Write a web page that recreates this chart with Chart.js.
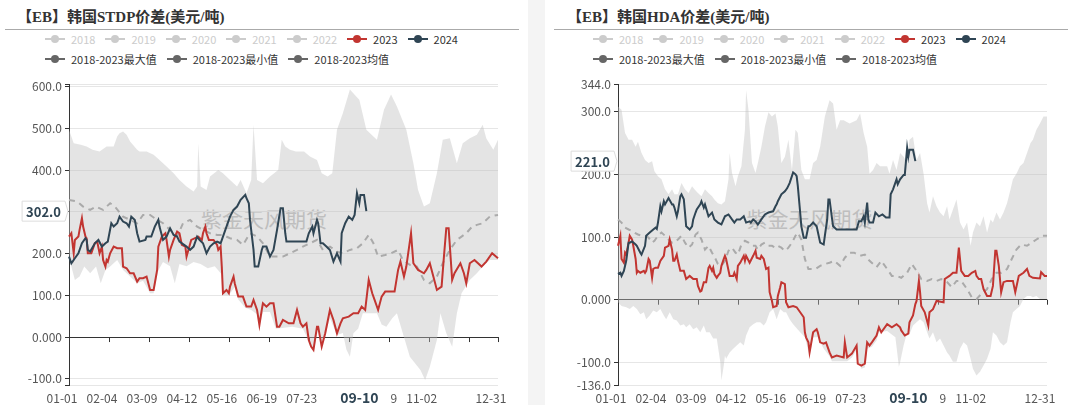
<!DOCTYPE html>
<html>
<head>
<meta charset="utf-8">
<script src="https://cdn.jsdelivr.net/npm/chart.js@4.4.1/dist/chart.umd.min.js"></script>
<style>
body{margin:0;width:1074px;height:405px;background:#f4f4f4;position:relative;overflow:hidden;font-family:"Noto Sans CJK SC","Noto Sans",sans-serif}
.panel{position:absolute;top:0;height:405px;background:#fff}
.title{position:absolute;top:5px;line-height:20px;font:bold 15px "Liberation Serif","Noto Sans CJK SC",serif;color:#333;white-space:nowrap}
.rule{position:absolute;top:29px;height:1px;background:#aaa}
.legend{position:absolute;top:29px;font-size:11px}
.row{display:flex;align-items:center;height:20px;white-space:nowrap}
.item{display:flex;align-items:center;margin-right:10px}
.icon{position:relative;width:20px;height:12px;margin-right:6px}
.icon .ln{position:absolute;left:0;right:0;top:5px;height:2px}
.icon .dot{position:absolute;left:6px;top:2px;width:8px;height:8px;border-radius:50%}
.mark{position:absolute;left:0;width:100%;top:203px;text-align:center;font-size:21px;color:#bdbdbd}
canvas{position:absolute;left:0;top:0}
</style>
</head>
<body>
<div class="panel" style="left:0;width:528px">
  <div class="title" style="left:17px">【EB】韩国STDP价差(美元/吨)</div>
  <div class="rule" style="left:5px;width:514px"></div>
  <div class="legend" id="leg1" style="left:45px"></div>
  <div class="mark">紫金天风期货</div>
  <canvas id="c1" width="528" height="405"></canvas>
</div>
<div class="panel" style="left:545px;width:529px">
  <div class="title" style="left:22px">【EB】韩国HDA价差(美元/吨)</div>
  <div class="rule" style="left:9px;width:514px"></div>
  <div class="legend" id="leg2" style="left:48px"></div>
  <div class="mark">紫金天风期货</div>
  <canvas id="c2" width="529" height="405"></canvas>
</div>
<script>
// day of year (0 = 01-01, leap-year calendar), value in USD/t
const stdpMax = [[0,497],[2,481],[4,465],[10,461],[15,457],[20,449],[26,445],[32,457],[38,457],[41,481],[43,489],[46,493],[49,485],[52,469],[58,449],[60,445],[66,445],[72,437],[77,425],[83,409],[89,393],[94,377],[100,361],[106,349],[109,361],[110,465],[112,361],[117,353],[120,385],[127,401],[131,393],[137,377],[143,361],[146,377],[151,345],[155,377],[157,509],[160,377],[165,369],[171,385],[178,401],[181,473],[184,457],[188,449],[193,445],[200,445],[205,433],[211,425],[215,393],[220,385],[224,393],[228,497],[233,537],[239,594],[244,578],[247,569],[253,497],[259,481],[262,473],[268,545],[274,582],[279,553],[287,497],[293,417],[297,353],[302,313],[307,321],[313,393],[318,473],[324,477],[330,417],[335,465],[341,477],[347,485],[352,509],[355,477],[361,449],[365,473]];
const stdpMin = [[0,201],[2,169],[5,137],[9,145],[13,169],[18,153],[23,169],[27,129],[31,161],[35,169],[41,185],[46,161],[52,145],[58,129],[63,135],[69,105],[72,105],[76,160],[80,180],[86,170],[90,129],[94,175],[100,170],[106,180],[112,175],[118,165],[124,170],[130,150],[131,100],[136,100],[141,120],[144,90],[150,70],[155,65],[160,55],[162,25],[165,60],[171,60],[176,20],[190,25],[199,20],[204,-10],[208,-35],[212,20],[215,-25],[218,5],[222,45],[228,5],[233,10],[236,-30],[239,-47],[242,9],[246,20],[250,57],[256,57],[262,57],[266,30],[270,25],[275,45],[279,57],[284,9],[290,-47],[299,-79],[303,-103],[307,-71],[313,-7],[316,57],[321,9],[326,-23],[330,57],[334,105],[341,137],[347,153],[352,169],[358,185],[365,185]];
const stdpMean = [[0,329],[7,325],[12,313],[18,305],[23,313],[29,305],[35,321],[39,313],[46,289],[52,281],[58,273],[63,293],[69,293],[75,281],[80,273],[86,257],[92,241],[97,273],[103,281],[109,265],[114,257],[120,249],[126,245],[131,245],[137,237],[143,233],[148,221],[154,249],[160,241],[165,225],[171,193],[177,193],[182,193],[188,201],[194,209],[199,217],[205,225],[211,233],[216,209],[222,217],[228,205],[233,201],[239,209],[245,213],[250,225],[255,245],[259,225],[263,193],[269,197],[274,201],[280,209],[284,185],[290,173],[296,169],[302,137],[307,129],[313,145],[318,177],[324,209],[330,233],[334,241],[338,249],[343,265],[347,269],[352,273],[358,289],[365,293]];
const stdp2023 = [[0,241],[2,249],[4,201],[5,233],[8,241],[9,257],[11,285],[12,265],[14,241],[15,237],[16,201],[19,201],[22,225],[24,229],[26,201],[28,217],[29,185],[31,169],[32,185],[33,181],[35,201],[38,217],[41,213],[45,213],[46,169],[49,165],[52,153],[55,153],[58,133],[60,141],[63,141],[66,145],[69,113],[72,113],[75,161],[76,217],[79,241],[82,249],[83,233],[85,193],[86,209],[89,233],[92,253],[94,249],[96,221],[99,217],[100,193],[102,213],[104,233],[110,241],[113,233],[114,249],[116,265],[117,249],[119,233],[123,233],[126,221],[127,209],[129,217],[130,169],[131,105],[134,113],[136,105],[137,121],[140,145],[141,129],[144,97],[148,97],[151,73],[155,73],[157,89],[160,65],[162,29],[164,65],[165,81],[168,73],[171,81],[174,81],[177,25],[179,25],[182,41],[187,33],[191,33],[194,65],[197,33],[199,25],[202,33],[204,-7],[206,-23],[208,-31],[211,25],[212,25],[215,-23],[218,9],[222,65],[225,41],[228,9],[231,33],[233,45],[238,49],[242,57],[246,57],[249,73],[252,65],[255,137],[258,105],[260,89],[263,65],[266,97],[269,109],[277,109],[280,161],[282,181],[285,145],[287,169],[291,249],[293,177],[297,161],[302,153],[304,161],[307,177],[310,145],[313,113],[317,121],[319,193],[321,261],[323,261],[326,137],[328,153],[333,177],[336,153],[338,129],[341,177],[345,185],[351,169],[355,181],[360,201],[365,189]];
const stdp2024 = [[0,193],[2,177],[5,189],[8,201],[11,225],[14,237],[15,233],[16,209],[18,205],[22,225],[25,233],[28,217],[31,225],[33,229],[36,273],[38,265],[41,273],[43,289],[46,277],[49,273],[51,265],[53,289],[56,281],[58,249],[60,229],[65,233],[66,241],[70,241],[73,265],[76,281],[77,265],[80,233],[83,241],[86,261],[89,245],[92,241],[94,229],[100,217],[103,209],[106,217],[109,241],[111,233],[114,225],[117,201],[120,217],[123,225],[126,229],[129,225],[131,241],[134,265],[137,289],[140,305],[143,313],[146,329],[150,341],[151,333],[153,321],[154,281],[157,209],[158,169],[161,169],[164,209],[165,217],[168,217],[171,193],[174,209],[177,257],[180,309],[182,309],[184,249],[185,229],[194,229],[202,229],[204,249],[207,265],[208,249],[211,281],[212,273],[214,225],[216,225],[219,217],[222,209],[225,181],[228,201],[231,181],[232,249],[235,273],[238,289],[241,281],[243,293],[245,345],[247,321],[248,341],[251,341],[253,302]];

const hdaMax = [[0,308],[3,303],[6,266],[9,255],[12,255],[15,244],[17,252],[20,234],[23,223],[26,218],[29,221],[31,205],[34,197],[37,192],[40,176],[43,168],[46,176],[48,168],[51,168],[54,186],[57,176],[60,170],[63,181],[65,176],[68,170],[71,165],[74,176],[77,170],[80,165],[82,160],[85,154],[88,152],[91,157],[94,192],[95,234],[97,202],[100,181],[102,197],[105,213],[108,271],[109,334],[111,303],[114,218],[117,202],[119,218],[122,244],[125,276],[128,299],[131,292],[134,297],[136,276],[139,218],[142,228],[145,255],[148,207],[151,271],[153,266],[156,207],[159,192],[163,192],[166,218],[169,223],[172,244],[176,292],[180,318],[183,313],[186,271],[189,286],[192,286],[197,281],[203,286],[206,297],[209,266],[212,244],[214,201],[217,207],[220,218],[223,213],[229,213],[231,201],[234,223],[237,207],[240,234],[243,228],[246,218],[248,255],[251,260],[254,223],[257,234],[260,201],[263,154],[265,139],[268,165],[271,149],[274,139],[277,133],[280,149],[282,128],[285,144],[288,160],[291,123],[294,112],[297,123],[300,86],[302,107],[305,123],[308,117],[311,133],[314,107],[317,128],[319,123],[322,139],[325,128],[328,139],[331,154],[334,176],[336,192],[339,201],[342,213],[345,218],[348,234],[351,250],[353,255],[356,271],[359,281],[362,292],[365,292]];
const hdaMin = [[0,-4],[3,-10],[7,-12],[10,-15],[13,-10],[16,-15],[19,-23],[22,-20],[24,-31],[27,-25],[30,-17],[33,-20],[36,-15],[39,-25],[41,-31],[44,-20],[47,-31],[50,-33],[53,-41],[56,-39],[58,-44],[61,-39],[64,-47],[67,-44],[70,-52],[73,-41],[75,-52],[78,-52],[81,-62],[84,-62],[87,-99],[88,-129],[90,-105],[91,-89],[92,-94],[95,-84],[98,-78],[101,-73],[104,-68],[107,-73],[109,-57],[112,-44],[115,-39],[118,-36],[121,-36],[124,-41],[126,-36],[129,-20],[132,-15],[135,-31],[138,-15],[141,-20],[143,-20],[146,-31],[149,-39],[155,-52],[159,-60],[163,-90],[166,-60],[170,-60],[175,-78],[180,-90],[182,-98],[192,-98],[195,-98],[199,-92],[203,-80],[207,-110],[210,-108],[212,-78],[216,-75],[220,-65],[222,-52],[229,-50],[236,-60],[239,-107],[240,-100],[243,-73],[246,-52],[248,-55],[251,-41],[254,-36],[257,-31],[260,-36],[263,-52],[265,-62],[268,-52],[271,-68],[274,-62],[277,-73],[280,-84],[282,-89],[285,-99],[288,-99],[291,-78],[294,-68],[297,-73],[300,-94],[302,-110],[305,-121],[308,-115],[311,-105],[314,-94],[317,-78],[319,-52],[322,-57],[325,-68],[328,-73],[331,-68],[334,-36],[336,-20],[339,-15],[342,-10],[345,1],[348,6],[351,6],[353,4],[356,6],[359,1],[365,1]];
const hdaMean = [[0,128],[3,123],[6,115],[9,112],[12,110],[14,107],[17,104],[20,102],[23,102],[26,99],[29,91],[31,94],[34,102],[37,107],[40,102],[43,96],[46,91],[48,91],[51,96],[54,102],[57,91],[60,83],[63,88],[66,104],[68,107],[71,96],[74,80],[77,86],[80,75],[83,65],[85,57],[88,54],[91,62],[94,78],[97,83],[100,75],[102,72],[105,88],[108,94],[111,91],[114,86],[117,86],[119,80],[122,88],[125,91],[128,86],[131,86],[134,83],[136,86],[139,83],[142,78],[145,83],[148,91],[151,102],[153,107],[156,96],[159,65],[162,49],[168,49],[172,54],[176,57],[180,59],[184,62],[189,54],[193,67],[197,75],[201,75],[206,70],[210,72],[214,62],[220,52],[224,62],[229,49],[233,38],[237,38],[241,35],[246,43],[250,57],[254,46],[258,33],[263,30],[267,33],[271,30],[275,33],[280,28],[284,20],[288,30],[292,30],[297,17],[301,4],[305,1],[309,9],[314,17],[318,33],[322,43],[326,43],[331,49],[335,65],[339,80],[343,88],[348,86],[352,91],[356,96],[361,102],[365,102]];
const hda2023 = [[0,86],[2,102],[3,65],[5,59],[6,75],[7,72],[9,91],[10,102],[12,96],[13,86],[15,65],[16,43],[17,46],[19,43],[22,46],[23,43],[24,46],[26,65],[27,62],[29,35],[30,49],[32,51],[34,51],[36,62],[39,70],[40,83],[43,86],[44,96],[46,80],[47,62],[48,62],[50,72],[51,62],[53,46],[56,46],[58,33],[61,38],[64,33],[67,33],[68,22],[70,13],[71,14],[73,28],[75,28],[77,51],[78,54],[80,46],[81,51],[82,41],[84,35],[85,38],[87,43],[88,54],[90,65],[91,70],[92,65],[95,38],[98,38],[99,43],[101,33],[102,54],[104,59],[107,70],[108,62],[109,70],[112,59],[115,70],[117,78],[118,67],[121,65],[122,70],[124,65],[126,49],[128,51],[129,12],[131,-2],[132,-12],[135,-10],[136,6],[138,20],[139,28],[142,25],[143,-4],[145,-12],[149,-10],[152,-12],[155,-20],[158,-28],[159,-52],[160,-60],[162,-68],[163,-84],[166,-52],[169,-47],[170,-52],[172,-68],[175,-70],[177,-68],[180,-84],[182,-92],[186,-89],[192,-92],[193,-68],[195,-92],[199,-86],[203,-73],[204,-102],[207,-105],[210,-102],[212,-68],[214,-73],[216,-68],[220,-57],[222,-44],[224,-52],[229,-39],[233,-44],[237,-39],[240,-44],[241,-49],[244,-57],[247,-54],[248,-36],[251,-25],[253,-7],[254,-2],[256,30],[257,12],[258,-10],[261,-20],[264,-41],[265,-20],[268,-15],[271,-2],[277,-4],[278,33],[282,38],[285,43],[288,43],[290,83],[292,46],[295,38],[298,38],[301,43],[304,46],[305,38],[307,33],[309,33],[311,17],[314,6],[317,6],[319,22],[321,78],[322,78],[324,54],[326,12],[328,28],[331,30],[336,30],[338,12],[341,38],[345,43],[348,49],[350,38],[353,35],[359,34],[360,44],[363,38],[365,38]];
const hda2024 = [[0,41],[2,43],[3,38],[5,46],[7,62],[9,91],[10,91],[12,93],[15,88],[16,86],[19,75],[20,72],[23,86],[24,102],[27,107],[30,112],[32,115],[33,113],[34,123],[36,149],[37,141],[39,157],[40,152],[43,162],[46,152],[47,152],[48,147],[50,133],[51,141],[53,165],[54,168],[56,160],[57,139],[58,117],[61,112],[63,117],[64,128],[66,139],[67,144],[70,152],[71,157],[73,147],[74,152],[77,133],[80,139],[82,128],[85,123],[88,120],[91,133],[94,136],[97,128],[99,123],[101,128],[104,128],[107,133],[109,123],[112,125],[113,123],[115,128],[117,125],[119,120],[122,128],[125,136],[128,139],[132,141],[134,149],[135,152],[136,157],[139,168],[142,173],[144,178],[146,186],[149,203],[151,200],[152,197],[153,181],[155,139],[156,117],[158,99],[160,99],[162,117],[163,117],[166,123],[169,117],[172,91],[175,88],[176,102],[178,128],[179,160],[180,160],[182,131],[183,117],[186,112],[192,112],[200,112],[203,112],[205,125],[207,125],[209,133],[210,123],[212,155],[213,128],[214,123],[217,123],[219,139],[222,133],[225,136],[228,131],[231,131],[232,168],[234,176],[237,192],[238,184],[240,192],[243,199],[244,199],[246,242],[247,228],[248,239],[251,239],[253,221]];

const stdpTicks = [-115, -100, 0, 100, 200, 300, 400, 500, 600, 607];
const stdpHidden = [-115, 607];
const hdaTicks = [-136, -100, 0, 100, 200, 300, 344];
const xTickDays = [0, 34, 68, 102, 136, 170, 204, 238, 272, 306, 340, 365];
const xLabelDays = [0, 34, 68, 102, 136, 170, 204, 272, 306, 365];
const pointerDay = 253;

const legendRow1 = ['2018', '2019', '2020', '2021', '2022', '2023', '2024'];
const legendRow2 = ['2018-2023最大值', '2018-2023最小值', '2018-2023均值'];

// category labels MM-DD for a full leap year
const dayLabels = [];
for (let i = 0; i < 366; i++) {
    const d = new Date(Date.UTC(2024, 0, 1 + i));
    dayLabels.push(String(d.getUTCMonth() + 1).padStart(2, '0') + '-' + String(d.getUTCDate()).padStart(2, '0'));
}
const pts = arr => arr.map(p => ({ x: dayLabels[p[0]], y: p[1] }));

const RED = '#c23531', DARK = '#2f4554';
const FONT = '"Noto Sans CJK SC", "Noto Sans", sans-serif';
Chart.defaults.font.family = FONT;

function buildLegend(el) {
    const colorOf = n => n === '2023' ? RED : n === '2024' ? DARK : (legendRow1.includes(n) ? '#ccc' : '#666');
    [legendRow1, legendRow2].forEach(row => {
        const r = document.createElement('div');
        r.className = 'row';
        row.forEach(n => {
            const c = colorOf(n);
            const it = document.createElement('div');
            it.className = 'item';
            it.innerHTML = '<span class="icon"><span class="ln" style="background:' + c + '"></span><span class="dot" style="background:' + c + '"></span></span>' +
                '<span style="color:' + (c === '#ccc' ? '#ccc' : '#333') + '">' + n + '</span>';
            r.appendChild(it);
        });
        el.appendChild(r);
    });
}

const LABEL_SHIFT = -7;

const axisPlugin = {
    id: 'zeroTicks',
    beforeDatasetsDraw(chart) {
        const { ctx, scales: { x, y } } = chart;
        const y0 = y.getPixelForValue(0);
        ctx.save();
        ctx.strokeStyle = '#333';
        ctx.lineWidth = 1;
        xTickDays.forEach(d => {
            const px = Math.round(x.getPixelForValue(d)) + 0.5;
            ctx.beginPath();
            ctx.moveTo(px, y0);
            ctx.lineTo(px, y0 + 5);
            ctx.stroke();
        });
        ctx.restore();
    }
};

const pointerPlugin = {
    id: 'pointer',
    afterDraw(chart, args, o) {
        const { ctx, chartArea, scales: { x, y } } = chart;
        ctx.save();
        // value label on the y axis
        const py = y.getPixelForValue(o.value);
        const txt = o.value.toFixed(1);
        ctx.font = 'bold 13px ' + FONT;
        const w = ctx.measureText(txt).width + 8, h = 20;
        const right = chartArea.left - 4, left = right - w;
        ctx.beginPath();
        ctx.moveTo(left, py - h / 2);
        ctx.lineTo(right, py - h / 2);
        ctx.lineTo(right + 3, py);
        ctx.lineTo(right, py + h / 2);
        ctx.lineTo(left, py + h / 2);
        ctx.closePath();
        ctx.fillStyle = '#fff';
        ctx.fill();
        ctx.strokeStyle = '#ddd';
        ctx.lineWidth = 1;
        ctx.stroke();
        ctx.fillStyle = DARK;
        ctx.textAlign = 'center';
        ctx.textBaseline = 'middle';
        ctx.fillText(txt, (left + right) / 2, py + 1);
        // date label on the x axis
        const px = x.getPixelForValue(o.day) + LABEL_SHIFT;
        ctx.fillStyle = '#fff';
        ctx.fillRect(px - 31, chartArea.bottom + 3, 62, 17);
        ctx.font = 'bold 14px ' + FONT;
        ctx.fillStyle = DARK;
        ctx.fillText(dayLabels[o.day], px, chartArea.bottom + 13);
        ctx.restore();
    }
};

function makeChart(id, s) {
    return new Chart(document.getElementById(id), {
        type: 'line',
        data: {
            labels: dayLabels,
            datasets: [
                { label: '2024', data: pts(s.y2024), borderColor: DARK, borderWidth: 2, order: 0 },
                { label: '2023', data: pts(s.y2023), borderColor: RED, borderWidth: 2, order: 1 },
                { label: '2018-2023均值', data: pts(s.mean), borderColor: '#aaa', borderWidth: 2, borderDash: [6, 5], order: 2 },
                { label: '2018-2023最小值', data: pts(s.min), borderColor: 'rgba(0,0,0,0)', borderWidth: 0, order: 4 },
                { label: '2018-2023最大值', data: pts(s.max), borderColor: 'rgba(0,0,0,0)', borderWidth: 0, fill: '-1', backgroundColor: 'rgba(190,190,190,0.42)', order: 3 }
            ]
        },
        options: {
            responsive: false,
            animation: false,
            events: [],
            layout: { padding: { top: 84, right: s.padRight, bottom: 0, left: 0 } },
            elements: { point: { radius: 0 }, line: { tension: 0, fill: false } },
            plugins: {
                legend: { display: false },
                tooltip: { enabled: false },
                pointer: { value: s.pointer, day: pointerDay }
            },
            scales: {
                x: {
                    afterFit: sc => { sc.height = 20; },
                    afterBuildTicks: sc => { sc.ticks = xLabelDays.map(v => ({ value: v })); },
                    grid: { display: false, drawTicks: false },
                    border: { display: false },
                    ticks: {
                        autoSkip: false, maxRotation: 0, minRotation: 0, padding: 6, labelOffset: LABEL_SHIFT,
                        color: '#555', font: { size: 12 },
                        callback: v => dayLabels[v]
                    }
                },
                y: {
                    min: s.ticks[0], max: s.ticks[s.ticks.length - 1],
                    afterFit: sc => { sc.width = s.axisWidth; },
                    afterBuildTicks: sc => { sc.ticks = s.ticks.map(v => ({ value: v })); },
                    grid: {
                        color: c => c.tick && c.tick.value === 0 ? '#333' : '#e6e6e6',
                        tickColor: '#333', tickLength: 4
                    },
                    border: { display: true, color: '#333' },
                    ticks: {
                        autoSkip: false, padding: 3, color: '#555', font: { size: 12 },
                        callback: v => s.hidden.includes(v) ? '' : (v === 0 ? '0.000' : v.toFixed(1))
                    }
                }
            }
        },
        plugins: [axisPlugin, pointerPlugin]
    });
}

buildLegend(document.getElementById('leg1'));
buildLegend(document.getElementById('leg2'));

makeChart('c1', {
    max: stdpMax, min: stdpMin, mean: stdpMean, y2023: stdp2023, y2024: stdp2024,
    ticks: stdpTicks, hidden: stdpHidden, pointer: 302, axisWidth: 69, padRight: 30
});
makeChart('c2', {
    max: hdaMax, min: hdaMin, mean: hdaMean, y2023: hda2023, y2024: hda2024,
    ticks: hdaTicks, hidden: [], pointer: 221, axisWidth: 73, padRight: 27
});
</script>
</body>
</html>
